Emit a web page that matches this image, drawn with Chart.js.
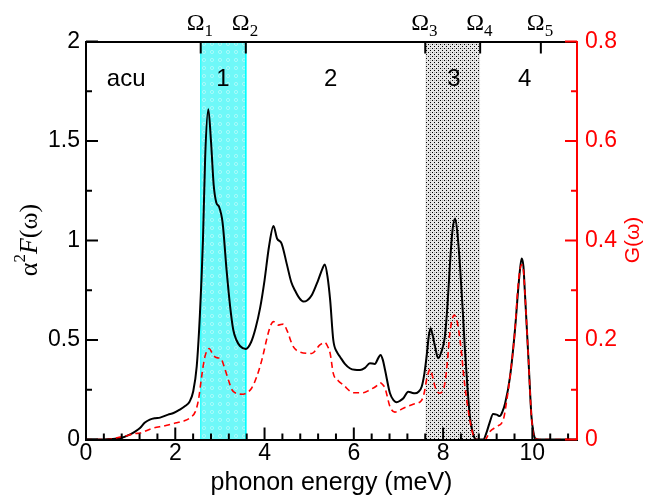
<!DOCTYPE html>
<html><head><meta charset="utf-8">
<script src="https://cdn.jsdelivr.net/npm/chart.js@4"></script>
<style>html,body{margin:0;padding:0;background:#fff;overflow:hidden}</style>
</head><body>
<canvas id="c" width="646" height="500"></canvas>
<script>
// ---- data ----
const a2fEnergy = [0,0.4,0.6,0.76,0.99,1.10,1.21,1.32,1.43,1.55,1.66,1.84,1.96,2.10,2.22,2.32,2.40,2.48,2.55,2.62,2.67,2.74,2.80,2.86,2.92,2.98,3.06,3.15,3.23,3.30,3.37,3.45,3.58,3.70,3.80,3.90,4.00,4.10,4.20,4.28,4.38,4.50,4.60,4.68,4.78,4.87,4.96,5.06,5.20,5.30,5.35,5.41,5.47,5.54,5.62,5.69,5.80,5.91,6.02,6.14,6.25,6.36,6.47,6.55,6.60,6.65,6.70,6.81,6.90,6.96,7.04,7.11,7.22,7.30,7.37,7.45,7.52,7.58,7.63,7.68,7.72,7.77,7.82,7.89,7.96,8.04,8.10,8.15,8.21,8.27,8.32,8.38,8.44,8.49,8.55,8.60,8.66,8.71,8.78,8.90,8.98,9.05,9.12,9.20,9.27,9.33,9.39,9.50,9.61,9.70,9.76,9.80,9.83,9.91,9.98,10.03,10.06,10.15,11];
const a2fValue  = [0,0,0.003,0.006,0.026,0.04,0.058,0.085,0.100,0.107,0.110,0.125,0.133,0.150,0.168,0.19,0.24,0.366,0.62,1.00,1.42,1.659,1.50,1.28,1.19,1.17,1.09,0.85,0.667,0.55,0.50,0.47,0.455,0.49,0.56,0.66,0.80,0.97,1.073,1.01,0.986,0.88,0.79,0.75,0.71,0.693,0.70,0.726,0.80,0.86,0.88,0.82,0.70,0.50,0.44,0.416,0.38,0.358,0.35,0.349,0.36,0.383,0.38,0.41,0.425,0.40,0.349,0.232,0.195,0.187,0.195,0.207,0.24,0.235,0.232,0.24,0.265,0.33,0.416,0.52,0.559,0.52,0.466,0.408,0.44,0.517,0.68,0.868,1.05,1.111,1.04,0.868,0.65,0.45,0.25,0.115,0.04,0.006,0,0,0.04,0.09,0.128,0.125,0.118,0.14,0.182,0.316,0.55,0.80,0.91,0.87,0.75,0.416,0.115,0.03,0.006,0,0];
const gEnergy = [0,0.5,0.72,0.84,1.10,1.21,1.47,1.73,1.84,2.00,2.22,2.35,2.45,2.52,2.59,2.66,2.72,2.76,2.82,2.89,2.95,3.02,3.10,3.19,3.27,3.34,3.52,3.62,3.71,3.82,3.94,4.08,4.15,4.20,4.31,4.42,4.50,4.64,4.79,5.06,5.24,5.35,5.42,5.47,5.54,5.65,5.76,5.99,6.21,6.36,6.50,6.59,6.65,6.70,6.81,6.92,7.11,7.33,7.52,7.58,7.63,7.71,7.76,7.82,7.92,8.04,8.10,8.15,8.25,8.32,8.38,8.49,8.60,8.67,8.71,8.94,9.05,9.20,9.35,9.42,9.50,9.61,9.68,9.76,9.80,9.83,9.91,9.98,10.06,10.15,11];
const gValue  = [0,0,0.004,0.006,0.012,0.013,0.022,0.027,0.029,0.033,0.038,0.045,0.056,0.08,0.126,0.165,0.18,0.183,0.175,0.166,0.164,0.163,0.145,0.12,0.10,0.094,0.091,0.095,0.103,0.125,0.16,0.213,0.232,0.237,0.23,0.232,0.22,0.187,0.176,0.173,0.19,0.195,0.186,0.173,0.133,0.118,0.11,0.094,0.094,0.10,0.107,0.114,0.11,0.103,0.066,0.055,0.063,0.071,0.079,0.095,0.12,0.141,0.128,0.106,0.093,0.113,0.16,0.213,0.25,0.235,0.2,0.106,0.039,0.01,0,0,0.016,0.026,0.04,0.075,0.126,0.22,0.31,0.351,0.34,0.30,0.166,0.046,0.002,0,0];
const omegaPositions = [2.57,3.58,7.60,8.83,10.19];
const omegaSubscripts = ['1','2','3','4','5'];
const band1 = [2.57,3.58];
const band3 = [7.60,8.83];
const regionLabels = ['acu','1','2','3','4'];
const regionCenters = [0.90,3.07,5.48,8.24,9.83];
const xTickValues = [0,2,4,6,8,10];
const xTickLabels = ['0','2','4','6','8','10'];
const yTickValues = [0,0.5,1,1.5,2];
const yTickLabels = ['0','0.5','1','1.5','2'];
const y2TickValues = [0,0.2,0.4,0.6,0.8];
const y2TickLabels = ['0','0.2','0.4','0.6','0.8'];

// ---- patterns ----
function makePattern(draw, w, h){
  const c = document.createElement('canvas'); c.width = w; c.height = h;
  const g = c.getContext('2d'); draw(g);
  return document.getElementById('c').getContext('2d').createPattern(c,'repeat');
}
const cyanPattern = makePattern(g=>{
  g.fillStyle='#6ef8f8'; g.fillRect(0,0,8,8);
  g.strokeStyle='#a8fbfb'; g.lineWidth=1; g.beginPath(); g.arc(4,4,1.6,0,Math.PI*2); g.stroke();
},8,8);
const grayPattern = makePattern(g=>{
  g.fillStyle='#e6e6e6'; g.fillRect(0,0,4,4);
  g.fillStyle='#000'; g.fillRect(0,0,1,1); g.fillRect(2,2,1,1);
  g.fillStyle='#b0b0b0'; g.fillRect(2,0,1,1);
},4,4);

const pts = (xs,ys)=>xs.map((x,i)=>({x, y:ys[i]}));
const bandPts = (b, top)=>[{x:b[0],y:0},{x:b[0],y:top},{x:b[1],y:top},{x:b[1],y:0}];

const SANS = 'Liberation Sans';
const SERIF = 'Liberation Serif';

const decoPlugin = {
  id:'deco',
  afterDraw(chart){
    const {ctx, chartArea:a, scales:{x,y,y2}} = chart;
    ctx.save();
    // inner tick marks
    ctx.lineWidth = 2; ctx.strokeStyle = '#000';
    for (let i=0;i<=27;i++){
      const px = x.getPixelForValue(i*0.4);
      const L = (i%5===0)?12:6;
      ctx.beginPath(); ctx.moveTo(px,a.bottom); ctx.lineTo(px,a.bottom-L); ctx.stroke();
    }
    for (let i=0;i<=8;i++){
      const py = y.getPixelForValue(i*0.25);
      const L = (i%2===0)?12:6;
      ctx.beginPath(); ctx.moveTo(a.left,py); ctx.lineTo(a.left+L,py); ctx.stroke();
    }
    for (const v of omegaPositions){
      const px = x.getPixelForValue(v);
      ctx.beginPath(); ctx.moveTo(px,a.top); ctx.lineTo(px,a.top+12); ctx.stroke();
    }
    ctx.strokeStyle = '#ff0000';
    for (let i=0;i<=8;i++){
      const py = y2.getPixelForValue(i*0.1);
      const L = (i%2===0)?12:6;
      ctx.beginPath(); ctx.moveTo(a.right,py); ctx.lineTo(a.right-L,py); ctx.stroke();
    }
    // omega labels
    ctx.fillStyle = '#000'; ctx.textAlign='left'; ctx.textBaseline='alphabetic';
    omegaPositions.forEach((v,i)=>{
      const px = x.getPixelForValue(v);
      ctx.font = `24px "${SERIF}"`;
      ctx.fillText('Ω', px-14, 30);
      const w = ctx.measureText('Ω').width;
      ctx.font = `17px "${SERIF}"`;
      ctx.fillText(omegaSubscripts[i], px-14+w, 36);
    });
    // region labels
    ctx.font = `24px "${SANS}"`; ctx.textAlign='center';
    regionLabels.forEach((t,i)=>{
      ctx.fillText(t, x.getPixelForValue(regionCenters[i]), 86);
    });
    // x title
    ctx.font = `25px "${SANS}"`; ctx.textAlign='center'; ctx.textBaseline='middle';
    ctx.fillText('phonon energy (meV)', (a.left+a.right)/2, 483);
    // left title
    ctx.save();
    ctx.translate(37, 240); ctx.rotate(-Math.PI/2);
    const parts = [
      {t:'α', f:`26px "${SERIF}"`, dy:0},
      {t:'2', f:`17px "${SERIF}"`, dy:-12},
      {t:'F', f:`italic 26px "${SERIF}"`, dy:0},
      {t:'(ω)', f:`26px "${SERIF}"`, dy:0}
    ];
    let tw = 0; parts.forEach(p=>{ctx.font=p.f; p.w=ctx.measureText(p.t).width; tw+=p.w;});
    let cx = -tw/2; ctx.textAlign='left'; ctx.textBaseline='alphabetic';
    parts.forEach(p=>{ctx.font=p.f; ctx.fillText(p.t,cx,p.dy); cx+=p.w;});
    ctx.restore();
    // right title
    ctx.save();
    ctx.translate(633, 240); ctx.rotate(-Math.PI/2);
    ctx.fillStyle='#ff0000'; ctx.font = `21px "${SANS}"`; ctx.textAlign='center'; ctx.textBaseline='middle';
    ctx.fillText('G(ω)',0,0);
    ctx.restore();
    ctx.restore();
  }
};

const tickFont = {family:SANS, size:23};
new Chart(document.getElementById('c'), {
  type:'line',
  data:{ datasets:[
    {data:pts(gEnergy,gValue), yAxisID:'y2', borderColor:'#ff0000', borderWidth:1.6, borderDash:[6,4], pointRadius:0, cubicInterpolationMode:'monotone', fill:false, order:0},
    {data:pts(a2fEnergy,a2fValue), yAxisID:'y', borderColor:'#000000', borderWidth:2, pointRadius:0, cubicInterpolationMode:'monotone', fill:false, order:1},
    {data:bandPts(band1,2), yAxisID:'y', borderColor:'#00ffff', borderWidth:1, backgroundColor:cyanPattern, pointRadius:0, tension:0, fill:'origin', order:2},
    {data:bandPts(band3,2), yAxisID:'y', borderColor:'rgba(0,0,0,0)', borderWidth:0, backgroundColor:grayPattern, pointRadius:0, tension:0, fill:'origin', order:3}
  ]},
  options:{
    responsive:false, animation:false, devicePixelRatio:1,
    layout:{padding:0},
    plugins:{legend:{display:false}, tooltip:{enabled:false}},
    scales:{
      x:{type:'linear', position:'bottom', min:0, max:11,
        afterBuildTicks:s=>{s.ticks = xTickValues.map(v=>({value:v}));},
        ticks:{font:tickFont, color:'#000', padding:0, maxRotation:0, autoSkip:false, callback:(v,i)=>xTickLabels[i]},
        grid:{display:false, drawTicks:false}, border:{color:'#000', width:2, z:1},
        afterFit:s=>{s.height=60.5;}},
      xTop:{type:'linear', position:'top', min:0, max:11,
        ticks:{display:false}, grid:{display:false, drawTicks:false}, border:{color:'#000', width:2, z:1},
        afterFit:s=>{s.height=41.5;}},
      y:{position:'left', min:0, max:2,
        afterBuildTicks:s=>{s.ticks = yTickValues.map(v=>({value:v}));},
        ticks:{font:tickFont, color:'#000', padding:6, callback:(v,i)=>yTickLabels[i]},
        grid:{display:false, drawTicks:false}, border:{color:'#000', width:2, z:1},
        afterFit:s=>{s.width=86;}},
      y2:{position:'right', min:0, max:0.8,
        afterBuildTicks:s=>{s.ticks = y2TickValues.map(v=>({value:v}));},
        ticks:{font:tickFont, color:'#ff0000', padding:8, callback:(v,i)=>y2TickLabels[i]},
        grid:{display:false, drawTicks:false}, border:{color:'#ff0000', width:2, z:1},
        afterFit:s=>{s.width=69;}}
    }
  },
  plugins:[decoPlugin]
});
</script>
</body></html>
